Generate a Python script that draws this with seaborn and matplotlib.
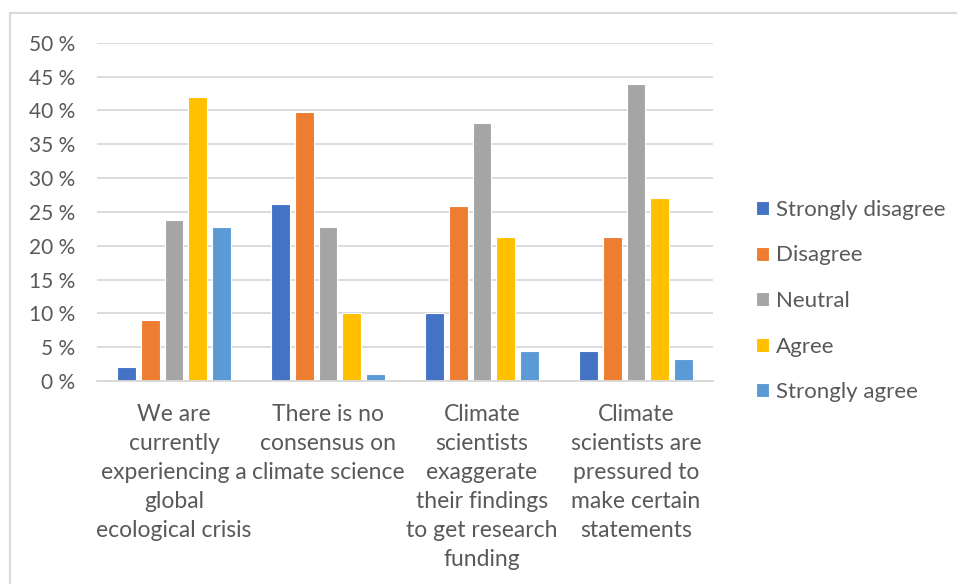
import matplotlib
matplotlib.use("Agg")
import matplotlib.pyplot as plt
import seaborn as sns
import pandas as pd

statements = [
    "We are\ncurrently\nexperiencing a\nglobal\necological crisis",
    "There is no\nconsensus on\nclimate science",
    "Climate\nscientists\nexaggerate\ntheir findings\nto get research\nfunding",
    "Climate\nscientists are\npressured to\nmake certain\nstatements",
]
responses = ["Strongly disagree", "Disagree", "Neutral", "Agree", "Strongly agree"]

strongly_disagree = [2.1, 26.1, 10.1, 4.4]
disagree = [9.0, 39.7, 25.9, 21.3]
neutral = [23.8, 22.7, 38.2, 43.9]
agree = [42.0, 10.1, 21.3, 27.0]
strongly_agree = [22.7, 1.0, 4.4, 3.3]

colors = ["#4472C4", "#ED7D31", "#A5A5A5", "#FFC000", "#5B9BD5"]
ytick_values = list(range(0, 55, 5))

series = [strongly_disagree, disagree, neutral, agree, strongly_agree]
rows = []
for resp, vals in zip(responses, series):
    for stmt, v in zip(statements, vals):
        rows.append({"statement": stmt, "response": resp, "share": v})
df = pd.DataFrame(rows)

sns.set_theme(style="white")
plt.rcParams["font.family"] = ["Lato", "DejaVu Sans"]
text_color = "#595959"
grid_color = "#D9D9D9"

fig = plt.figure(figsize=(9.57, 5.84), dpi=100)
ax = fig.add_axes([97 / 957, 1 - 381 / 584, (713 - 97) / 957, (381 - 42.7) / 584])

sns.barplot(
    data=df, x="statement", y="share", hue="response",
    order=statements, hue_order=responses, palette=colors, saturation=1,
    width=0.77, gap=0.22, edgecolor="white", linewidth=0.8,
    ax=ax, legend=True,
)

ax.set_ylim(0, 50)
ax.set_yticks(ytick_values)
ax.set_yticklabels([f"{v} %" for v in ytick_values])
ax.yaxis.grid(True, color=grid_color, linewidth=1.3)
ax.set_axisbelow(True)
for side in ["top", "right", "left"]:
    ax.spines[side].set_visible(False)
ax.spines["bottom"].set_color(grid_color)
ax.spines["bottom"].set_linewidth(1.3)
ax.set_xlabel("")
ax.set_ylabel("")
ax.tick_params(axis="y", length=0, pad=16, labelsize=15, labelcolor=text_color)
ax.tick_params(axis="x", length=0, pad=16.5, labelsize=16.5, labelcolor=text_color)
for lbl in ax.get_xticklabels():
    lbl.set_linespacing(1.47)
    lbl.set_verticalalignment("top")

handles, labels = ax.get_legend_handles_labels()
ax.legend(
    handles, labels, loc="center left", bbox_to_anchor=(756 / 957, 1 - 301 / 584),
    bbox_transform=fig.transFigure, frameon=False, fontsize=16,
    labelcolor=text_color, handlelength=0.6, handleheight=0.6,
    handletextpad=0.3, labelspacing=1.15, borderpad=0, borderaxespad=0,
)

# chart frame: top and left edges only
frame_color = "#D9D9D9"
fig.add_artist(plt.Line2D([10 / 957, 1], [1 - 13 / 584] * 2, color=frame_color,
                          linewidth=1.5, transform=fig.transFigure))
fig.add_artist(plt.Line2D([10 / 957] * 2, [0, 1 - 13 / 584], color=frame_color,
                          linewidth=1.5, transform=fig.transFigure))

fig.savefig("out.png", dpi=100)
